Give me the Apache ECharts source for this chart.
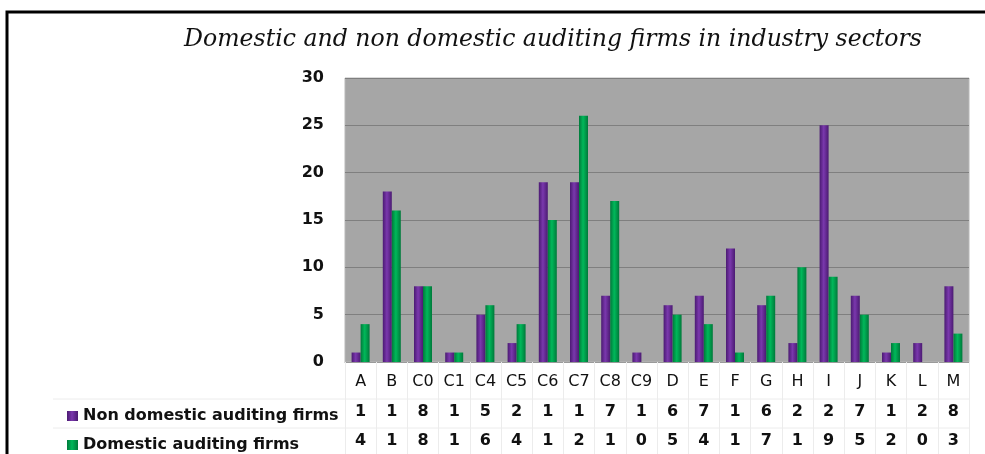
<!DOCTYPE html>
<html><head><meta charset="utf-8">
<script src="https://cdn.jsdelivr.net/npm/echarts@6/dist/echarts.min.js"></script>
<style>html,body{margin:0;padding:0;background:#fff}#c{width:985px;height:454px}</style>
</head><body><div id="c"></div>
<script>
const title = 'Domestic and non domestic auditing firms in industry sectors';
const categories = ['A','B','C0','C1','C4','C5','C6','C7','C8','C9','D','E','F','G','H','I','J','K','L','M'];
const seriesNames = ['Non domestic auditing firms','Domestic auditing firms'];
const nonDomestic = [1,18,8,1,5,2,19,19,7,1,6,7,12,6,2,25,7,1,2,8];
const domestic = [4,16,8,1,6,4,15,26,17,0,5,4,1,7,10,9,5,2,0,3];
const yTicks = {min:0, max:30, interval:5};

const chart = echarts.init(document.getElementById('c'));
function grad(edge, mid){
  return new echarts.graphic.LinearGradient(0,0,1,0,[
    {offset:0,color:edge},{offset:0.45,color:mid},{offset:1,color:edge}]);
}
const purple = grad('#4b1a72','#7a38ad');
const green = grad('#00793a','#00b85a');
const tableFont = {fontFamily:'DejaVu Sans', fontWeight:'bold', fontSize:16, color:'#111'};
const firstChar = arr => (v, i) => String(arr[i]).charAt(0);
const legendBase = {orient:'horizontal', left:62, itemWidth:11, itemHeight:10, icon:'rect',
  textStyle:Object.assign({lineHeight:18}, tableFont)};

chart.setOption({
  animation:false,
  backgroundColor:'#fff',
  title:{text:title, left:548, textAlign:'center', top:23,
    textStyle:{fontFamily:'DejaVu Serif', fontStyle:'italic', fontWeight:'normal', fontSize:23.6, color:'#111'}},
  grid:{left:345, right:16, top:78, bottom:92, show:true, backgroundColor:'#a6a6a6', borderColor:'#b8b8b8', borderWidth:1},
  legend:[
    Object.assign({top:402, data:[seriesNames[0]]}, legendBase),
    Object.assign({top:431, data:[seriesNames[1]]}, legendBase)
  ],
  xAxis:[
    {type:'category', data:categories, gridIndex:0, position:'bottom',
      axisLine:{show:true, lineStyle:{color:'#9a9a9a'}},
      axisTick:{show:true, length:92, lineStyle:{color:'#ececec'}},
      axisLabel:{fontFamily:'DejaVu Sans', fontSize:16, color:'#111', margin:12}},
    {type:'category', data:categories, gridIndex:0, position:'bottom',
      axisLine:{show:false}, axisTick:{show:false},
      axisLabel:Object.assign({margin:42, formatter:firstChar(nonDomestic)}, tableFont)},
    {type:'category', data:categories, gridIndex:0, position:'bottom',
      axisLine:{show:false}, axisTick:{show:false},
      axisLabel:Object.assign({margin:71, formatter:firstChar(domestic)}, tableFont)}
  ],
  yAxis:{type:'value', min:yTicks.min, max:yTicks.max, interval:yTicks.interval,
    axisLine:{show:false}, axisTick:{show:false},
    splitLine:{lineStyle:{color:'#7f7f7f', width:1}},
    axisLabel:Object.assign({margin:21}, tableFont)},
  series:[
    {name:seriesNames[0], type:'bar', data:nonDomestic, barWidth:9, barGap:'0%', xAxisIndex:0,
      itemStyle:{color:purple}},
    {name:seriesNames[1], type:'bar', data:domestic, barWidth:9, barGap:'0%', xAxisIndex:0,
      itemStyle:{color:green}}
  ],
  graphic:[
    {type:'line', shape:{x1:53,y1:399,x2:969,y2:399}, style:{stroke:'#ececec',lineWidth:1}, silent:true},
    {type:'line', shape:{x1:53,y1:428,x2:969,y2:428}, style:{stroke:'#ececec',lineWidth:1}, silent:true},
    {type:'polyline', shape:{points:[[7,454],[7,12],[985,12]]}, style:{stroke:'#000',lineWidth:3,fill:null}, silent:true}
  ]
});
</script></body></html>
